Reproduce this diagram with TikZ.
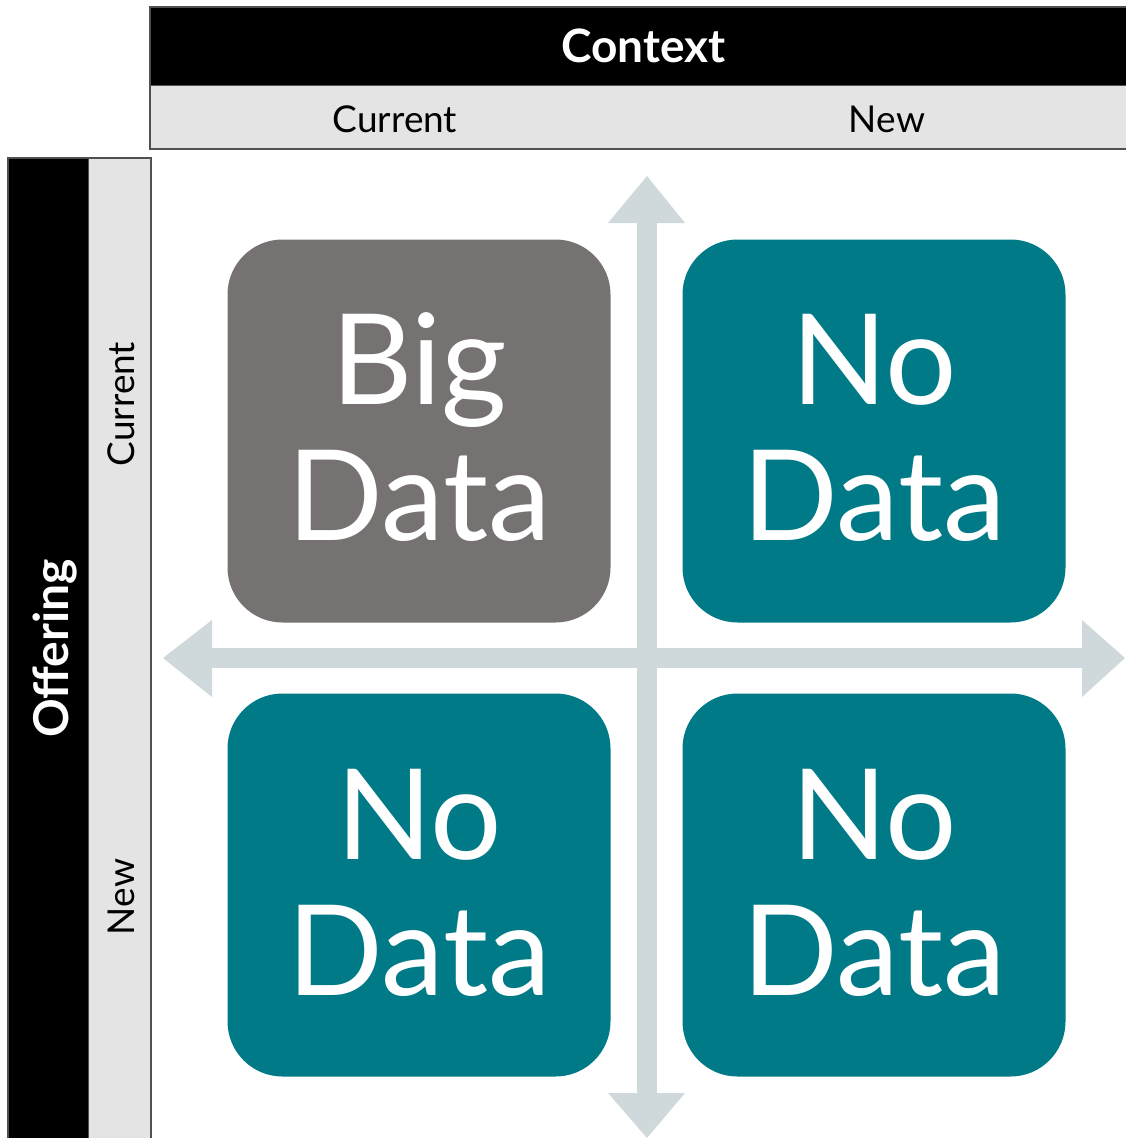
\documentclass[tikz,border=0pt]{standalone}
\usepackage{fontspec}
\setmainfont{Lato}
\definecolor{teal1}{HTML}{007A86}
\definecolor{gray1}{HTML}{767271}
\definecolor{hdrgray}{HTML}{E4E4E4}
\definecolor{axis}{HTML}{CFD9DB}
\definecolor{edge}{HTML}{505050}
\tikzset{
  quad/.style={rounded corners=55pt, minimum width=383pt, minimum height=383pt, inner sep=0pt, draw=none},
  quadtext/.style={text=white, inner sep=0pt, anchor=base, font=\fontsize{126}{126}\selectfont},
  hdrtitle/.style={inner sep=0pt, anchor=base, text=white},
  hdrlab/.style={inner sep=0pt, anchor=base, font=\fontsize{37}{37}\selectfont},
  axisfill/.style={fill=axis, draw=none},
}
\begin{document}
\begin{tikzpicture}[x=1pt,y=-1pt]
\useasboundingbox (0,0) rectangle (1125,1138);
% top header
\fill[hdrgray] (150,85) rectangle (1130,149);
\fill[black] (150,7) rectangle (1130,85);
\draw[edge, line width=2pt] (1130,7) -- (150,7) -- (150,149) -- (1130,149);
\draw[edge, line width=1pt] (150,85) -- (1130,85);
\node[hdrtitle, font=\fontsize{46}{46}\selectfont\bfseries] (ctx) at (643.5,62.5) {Context};
\node[hdrlab] (ccur) at (395,132) {Current};
\node[hdrlab] (cnew) at (887,132) {New};
% left header
\fill[black] (8,158) rectangle (88,1145);
\fill[hdrgray] (88,158) rectangle (151,1145);
\draw[edge, line width=2pt] (8,1145) -- (8,158) -- (151,158) -- (151,1145);
\draw[edge, line width=1pt] (88,158) -- (88,1145);
\node[hdrtitle, font=\fontsize{48}{48}\selectfont\bfseries, rotate=90] (off) at (68,648.5) {Offering};
\node[hdrlab, rotate=90] (ocur) at (134,404) {Current};
\node[hdrlab, rotate=90] (onew) at (134,897) {New};
% axes
\coordinate (ctr) at (647,658);
\fill[axisfill] (637,223) rectangle (657,1093);
\fill[axisfill] (212,648) rectangle (1082,668);
\fill[axisfill] (647,176) -- (685,223) -- (608,223) -- cycle;
\fill[axisfill] (647,1138) -- (685,1093) -- (608,1093) -- cycle;
\fill[axisfill] (163,658) -- (212,620) -- (212,697) -- cycle;
\fill[axisfill] (1125,658) -- (1082,620) -- (1082,697) -- cycle;
% quadrants
\node[quad, fill=gray1] (q11) at (419,431) {};
\node[quad, fill=teal1] (q12) at (874,431) {};
\node[quad, fill=teal1] (q21) at (419,885) {};
\node[quad, fill=teal1] (q22) at (874,885) {};
\node[quadtext, yshift=26.5pt] (t11a) at (q11.center) {Big};
\node[quadtext, yshift=-109.5pt] (t11b) at (q11.center) {Data};
\node[quadtext, yshift=26.5pt] (t12a) at (q12.center) {No};
\node[quadtext, yshift=-109.5pt] (t12b) at (q12.center) {Data};
\node[quadtext, yshift=25.5pt] (t21a) at (q21.center) {No};
\node[quadtext, yshift=-110pt] (t21b) at (q21.center) {Data};
\node[quadtext, yshift=25.5pt] (t22a) at (q22.center) {No};
\node[quadtext, yshift=-110pt] (t22b) at (q22.center) {Data};
\end{tikzpicture}
\end{document}
